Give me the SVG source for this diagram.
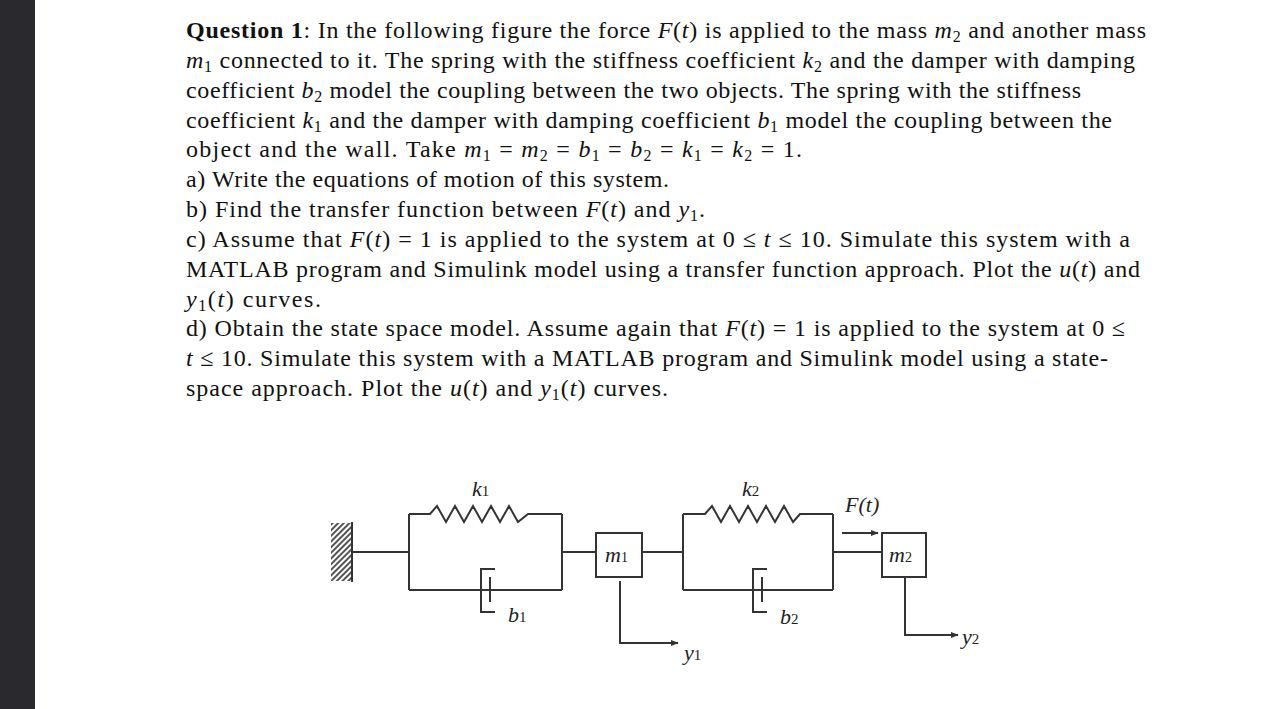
<svg xmlns="http://www.w3.org/2000/svg" width="1282" height="709" viewBox="0 0 1282 709">
<defs>
<marker id="ah" viewBox="0 0 10 10" refX="9" refY="5" markerWidth="8" markerHeight="8" orient="auto" markerUnits="userSpaceOnUse"><path d="M0,1 L10,5 L0,9 Z" fill="#333"/></marker>
<pattern id="hatch" width="4" height="4" patternUnits="userSpaceOnUse" patternTransform="rotate(45)"><rect width="2" height="4" fill="#555"/></pattern>
</defs>
<style>
.t{font-family:"Liberation Serif",serif;font-size:24px;fill:#111}
.i{font-style:italic}
.s{font-size:16px;font-style:normal}
.l{fill:none;stroke:#333;stroke-width:2}
.lb{font-family:"Liberation Serif",serif;font-style:italic;font-size:22px;fill:#222}
</style>
<rect width="1282" height="709" fill="#fff"/>
<rect x="0" y="0" width="35" height="709" fill="#2a2a2e"/>
<g id="text">
<text class="t" x="186" y="38" textLength="960" lengthAdjust="spacing"><tspan font-weight="bold">Question 1</tspan>: In the following figure the force <tspan class="i">F</tspan>(<tspan class="i">t</tspan>) is applied to the mass <tspan class="i">m</tspan><tspan class="s" dy="4">2</tspan><tspan dy="-4"> and another mass</tspan></text>
<text class="t" x="186" y="68" textLength="949" lengthAdjust="spacing"><tspan class="i">m</tspan><tspan class="s" dy="4">1</tspan><tspan dy="-4"> connected to it. The spring with the stiffness coefficient </tspan><tspan class="i">k</tspan><tspan class="s" dy="4">2</tspan><tspan dy="-4"> and the damper with damping</tspan></text>
<text class="t" x="186" y="98" textLength="895" lengthAdjust="spacing">coefficient <tspan class="i">b</tspan><tspan class="s" dy="4">2</tspan><tspan dy="-4"> model the coupling between the two objects. The spring with the stiffness</tspan></text>
<text class="t" x="186" y="128" textLength="926" lengthAdjust="spacing">coefficient <tspan class="i">k</tspan><tspan class="s" dy="4">1</tspan><tspan dy="-4"> and the damper with damping coefficient </tspan><tspan class="i">b</tspan><tspan class="s" dy="4">1</tspan><tspan dy="-4"> model the coupling between the</tspan></text>
<text class="t" x="186" y="157" textLength="616" lengthAdjust="spacing">object and the wall. Take <tspan class="i">m</tspan><tspan class="s" dy="4">1</tspan><tspan dy="-4"> = </tspan><tspan class="i">m</tspan><tspan class="s" dy="4">2</tspan><tspan dy="-4"> = </tspan><tspan class="i">b</tspan><tspan class="s" dy="4">1</tspan><tspan dy="-4"> = </tspan><tspan class="i">b</tspan><tspan class="s" dy="4">2</tspan><tspan dy="-4"> = </tspan><tspan class="i">k</tspan><tspan class="s" dy="4">1</tspan><tspan dy="-4"> = </tspan><tspan class="i">k</tspan><tspan class="s" dy="4">2</tspan><tspan dy="-4"> = 1.</tspan></text>
<text class="t" x="186" y="187" textLength="483" lengthAdjust="spacing">a) Write the equations of motion of this system.</text>
<text class="t" x="186" y="217" textLength="519" lengthAdjust="spacing">b) Find the transfer function between <tspan class="i">F</tspan>(<tspan class="i">t</tspan>) and <tspan class="i">y</tspan><tspan class="s" dy="4">1</tspan><tspan dy="-4">.</tspan></text>
<text class="t" x="186" y="247" textLength="944" lengthAdjust="spacing">c) Assume that <tspan class="i">F</tspan>(<tspan class="i">t</tspan>) = 1 is applied to the system at 0 ≤ <tspan class="i">t</tspan> ≤ 10. Simulate this system with a</text>
<text class="t" x="186" y="277" textLength="954" lengthAdjust="spacing">MATLAB program and Simulink model using a transfer function approach. Plot the <tspan class="i">u</tspan>(<tspan class="i">t</tspan>) and</text>
<text class="t" x="186" y="307" textLength="135" lengthAdjust="spacing"><tspan class="i">y</tspan><tspan class="s" dy="4">1</tspan><tspan dy="-4">(</tspan><tspan class="i">t</tspan>) curves.</text>
<text class="t" x="186" y="336" textLength="939" lengthAdjust="spacing">d) Obtain the state space model. Assume again that <tspan class="i">F</tspan>(<tspan class="i">t</tspan>) = 1 is applied to the system at 0 ≤</text>
<text class="t" x="186" y="366" textLength="922" lengthAdjust="spacing"><tspan class="i">t</tspan> ≤ 10. Simulate this system with a MATLAB program and Simulink model using a state-</text>
<text class="t" x="186" y="396" textLength="482" lengthAdjust="spacing">space approach. Plot the <tspan class="i">u</tspan>(<tspan class="i">t</tspan>) and <tspan class="i">y</tspan><tspan class="s" dy="4">1</tspan><tspan dy="-4">(</tspan><tspan class="i">t</tspan>) curves.</text>
</g>
<g id="wall"><rect x="331" y="523" width="20" height="58" fill="url(#hatch)"/><line class="l" x1="352" y1="522" x2="352" y2="582"/></g>
<g id="m1"><rect class="l" x="596" y="533" width="46" height="44"/><text class="lb" x="605" y="562">m<tspan font-size="14" font-style="normal">1</tspan></text></g>
<g id="m2"><rect class="l" x="882" y="533" width="44" height="44"/><text class="lb" x="889" y="562">m<tspan font-size="14" font-style="normal">2</tspan></text></g>
<g id="connectors">
<path class="l" d="M352,552 H409 M409,514 V590 M409,514 H430 L437,506 L446,522 L455,506 L464,522 L473,506 L482,522 L491,506 L500,522 L509,506 L518,522 L528,514 H562 M562,514 V590 M409,590 H490 M490,577 V602 M495,569 H481 V612 H495 M562,590 H490 M562,552 H596"/>
<path class="l" d="M642,552 H683 M683,514 V590 M683,514 H705 L712,506 L721,522 L730,506 L739,522 L748,506 L757,522 L766,506 L775,522 L784,506 L793,522 L800,514 H833 M833,514 V590 M683,590 H762 M762,577 V602 M767,569 H753 V612 H767 M833,590 H762 M833,552 H882"/>
<path class="l" d="M620,581 V643 H678" marker-end="url(#ah)"/>
<path class="l" d="M905,577 V635 H958" marker-end="url(#ah)"/>
<path class="l" d="M842,533 H878" marker-end="url(#ah)"/>
</g>
<g id="labels">
<text class="lb" x="472" y="496">k<tspan font-size="15" font-style="normal">1</tspan></text>
<text class="lb" x="742" y="496">k<tspan font-size="15" font-style="normal">2</tspan></text>
<text class="lb" x="508" y="622">b<tspan font-size="15" font-style="normal">1</tspan></text>
<text class="lb" x="780" y="624">b<tspan font-size="15" font-style="normal">2</tspan></text>
<text class="lb" x="845" y="512" font-size="19">F(t)</text>
<text class="lb" x="684" y="660">y<tspan font-size="15" font-style="normal">1</tspan></text>
<text class="lb" x="962" y="644">y<tspan font-size="15" font-style="normal">2</tspan></text>
</g>
</svg>
